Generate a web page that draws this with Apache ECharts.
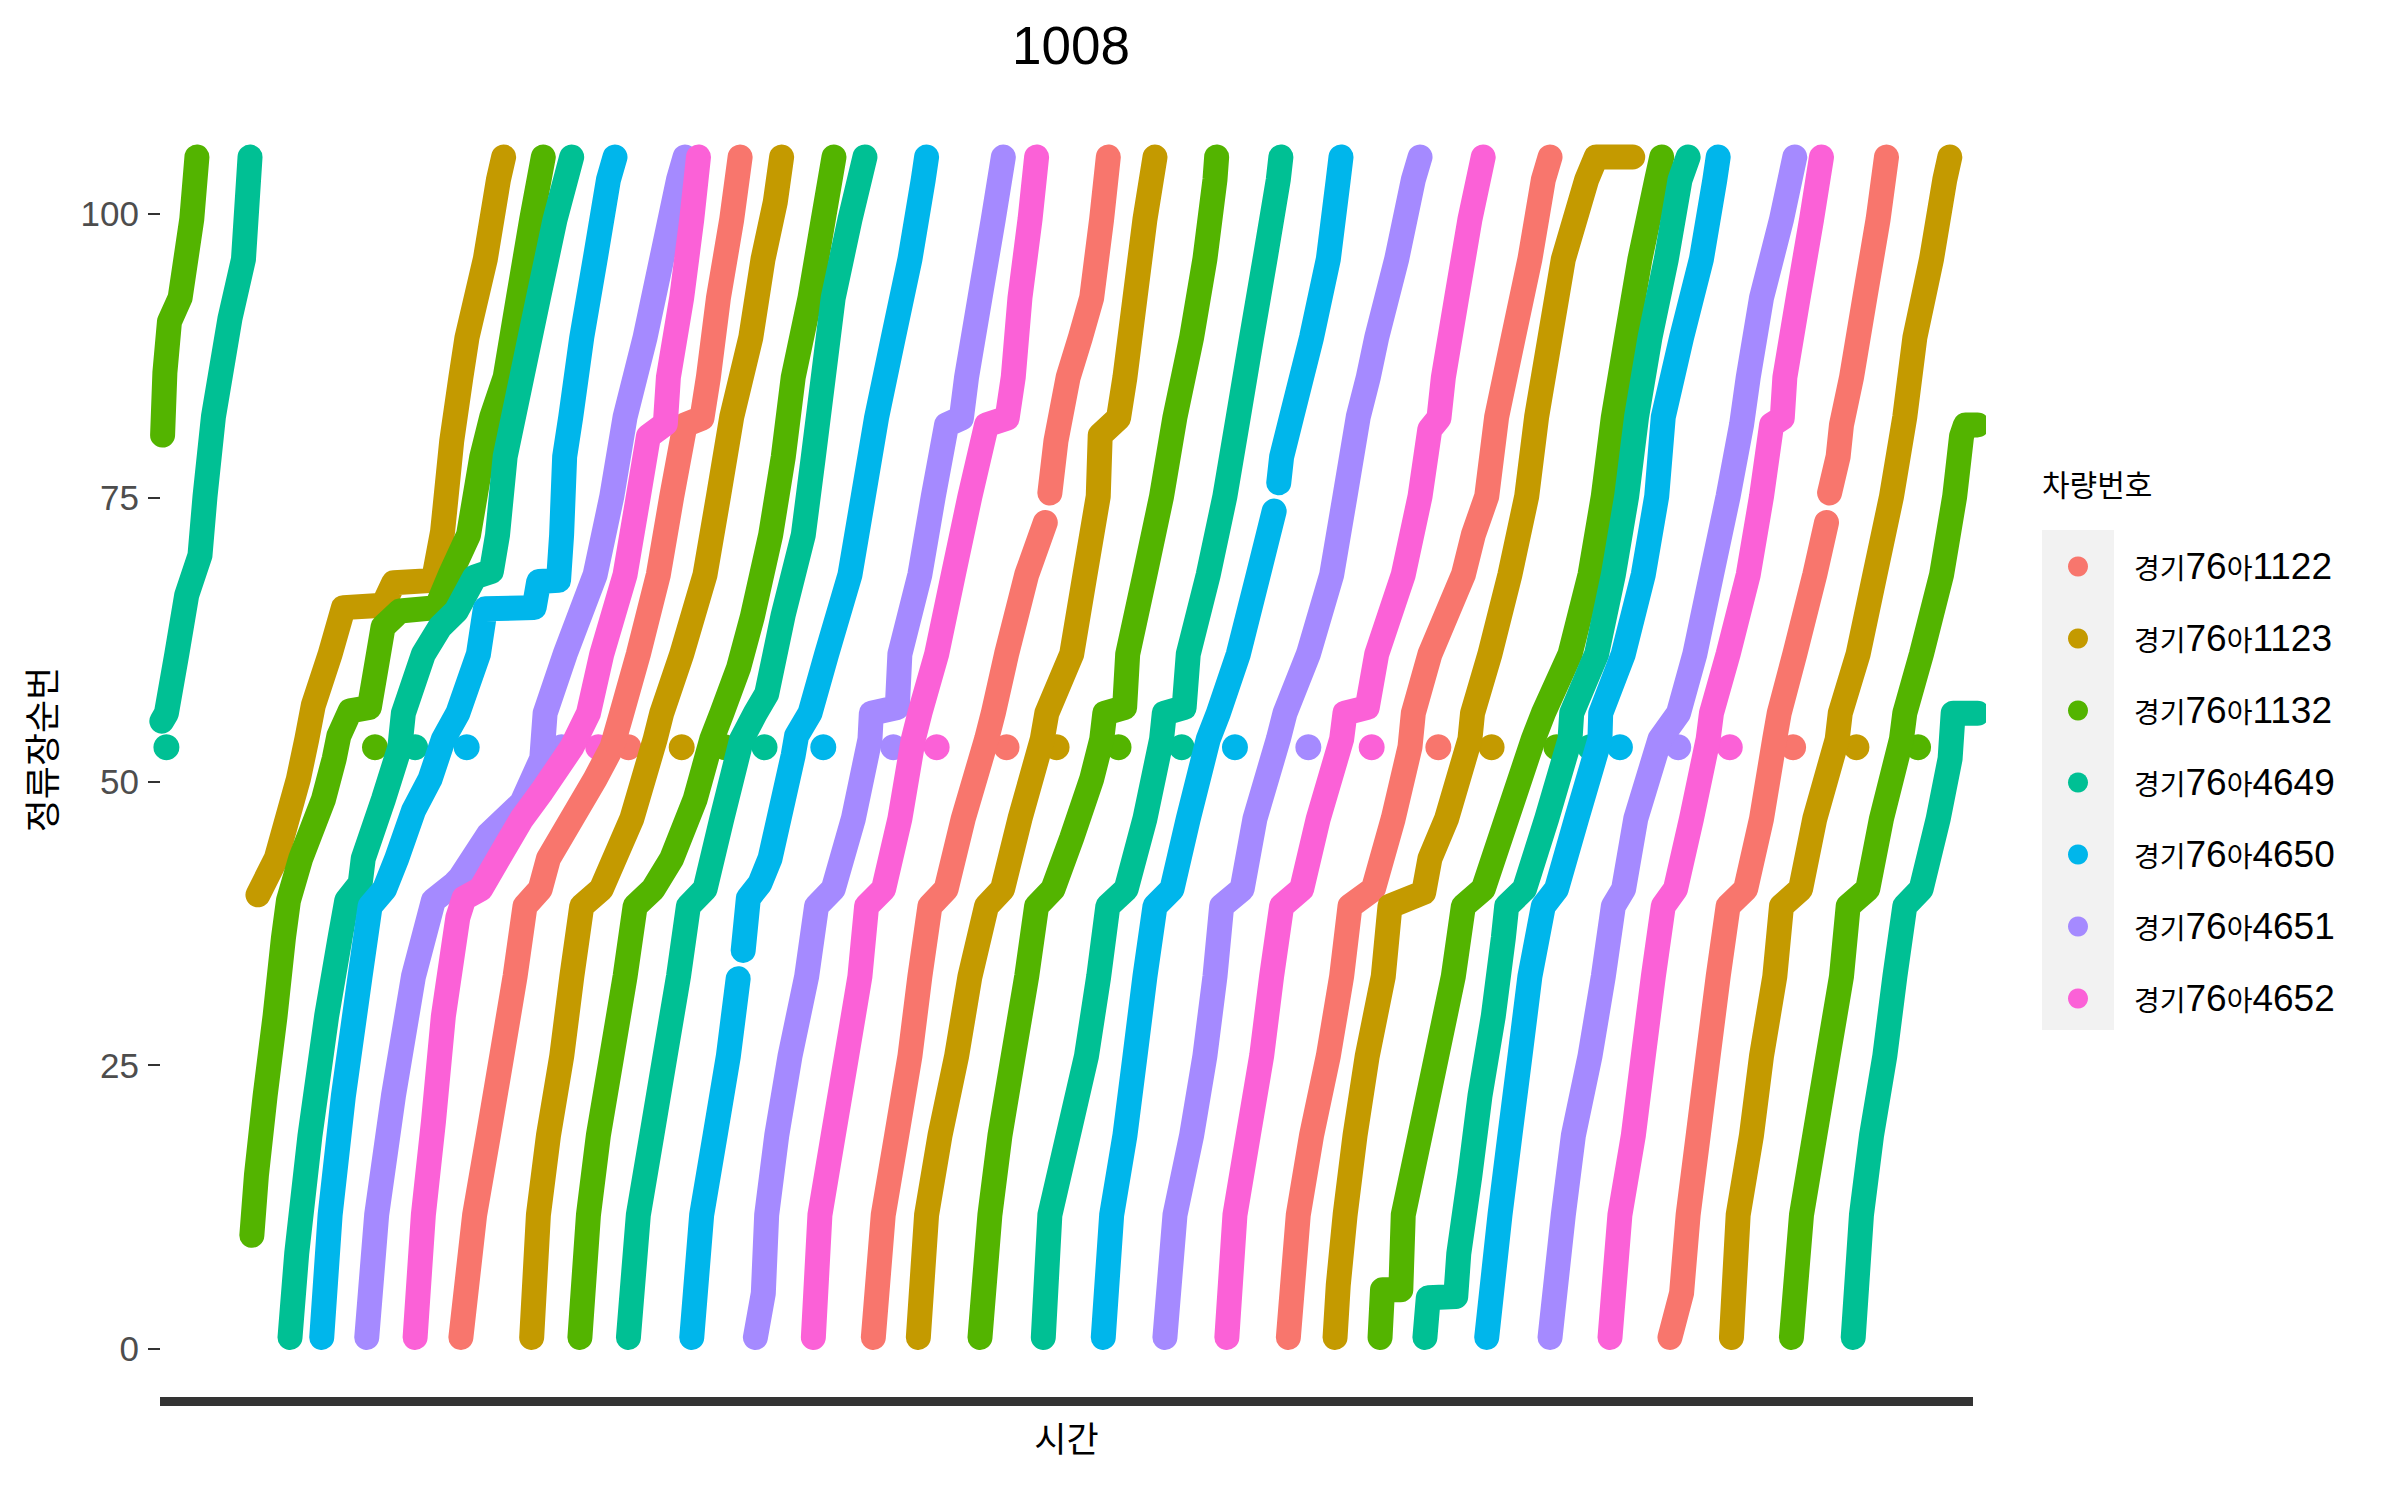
<!DOCTYPE html>
<html><head><meta charset="utf-8">
<script src="https://cdn.jsdelivr.net/npm/echarts@6/dist/echarts.min.js"></script>
<style>html,body{margin:0;padding:0;background:#fff}#c{width:2393px;height:1487px}</style>
</head><body><div id="c"></div>
<script>
// 차량번호 (vehicle ids)
const vehicles = ['경기76아1122','경기76아1123','경기76아1132','경기76아4649','경기76아4650','경기76아4651','경기76아4652'];
const yTicks = [0, 25, 50, 75, 100];

// each trip: [time index, 정류장순번]
const trips1122 = [
 [[302,1],[311,11.8],[320,18.8],[328.8,25.8],[337.5,32.8],[344,39],[354,40.5],[359.4,43.2],[374.7,46.7],[390,50.2],[401,53],[407.4,56],[418.3,61.2],[431.4,68.2],[440.2,75.1],[448.9,81.4],[460,82],[464.2,85.6],[470.8,92.6],[479.5,99.5],[485,105]],
 [[572.3,1],[578.8,11.8],[587.6,18.8],[596.3,25.8],[602.8,32.8],[609.4,39],[620,40.5],[631.2,46.7],[646.5,53.7],[650.9,56],[659.6,61.2],[672.8,68.2],[685,72.8]],
 [[688,75.4],[692,80],[700,85.6],[708,89.1],[715.4,92.6],[721.9,99.5],[726.3,105]],
 [[844.3,1],[850.8,11.8],[859.5,18.8],[870.5,25.8],[879.2,32.8],[884.7,39],[900,40.5],[913,46.7],[924,53],[926.2,56],[937.1,61.2],[959,68.2],[965.5,71.7],[974.3,75.1],[980.8,82.1],[991.7,89.1],[1002.6,96],[1011.4,103],[1015.8,105]],
 [[1094.4,1],[1102,4.9],[1106.3,11.8],[1112.9,18.8],[1119.4,25.8],[1126,32.8],[1132.5,39],[1144,40.5],[1154.4,46.7],[1163,53.7],[1166,56],[1176.2,61.2],[1189.3,68.2],[1197,72.8]],
 [[1199,75.4],[1204.6,78.6],[1206.8,81.4],[1213.4,85.6],[1222.1,92.6],[1230.8,99.5],[1236.3,105]]
];
const trips1123 = [
 [[169,40],[181,43.2],[195.5,50.2],[201,53.7],[205.3,56.7],[216.3,61.2],[225,65.3],[251,65.5],[258,67.5],[284,67.7],[290,72],[296,80],[302,85.6],[306,89.1],[318,96],[326.6,103],[330,105]],
 [[348.4,1],[352.8,11.8],[359.4,18.8],[368.1,25.8],[374.7,32.8],[381.2,39],[394,40.5],[414,46.7],[429.3,53.7],[433.6,56],[446.7,61.2],[462,68.2],[470.8,75.1],[479.5,82.1],[492,89.1],[500,96],[508,101],[512.2,105]],
 [[601.8,1],[607.2,11.8],[616,18.8],[626.9,25.8],[635.6,32.8],[646.5,39],[657,40.5],[668.4,46.7],[683,53.7],[686,56],[702.3,61.2],[711,68.2],[719.7,75.1],[721,80.5],[733,82],[737.2,85.6],[743.8,92.6],[750.3,99.5],[756.9,105]],
 [[874.9,1],[877,5.6],[881.5,11.8],[888,18.8],[896,25.8],[906.5,32.8],[910.9,39],[933,40.2],[937.1,43.2],[948,46.7],[963.3,53.7],[965,56],[976.4,61.2],[989.5,68.2],[1000.5,75.1],[1007,82.1],[1015.8,89.1],[1024.5,96],[1039.8,103],[1046,105],[1070,105]],
 [[1134.7,1],[1139.1,11.8],[1147.8,18.8],[1154.4,25.8],[1163.1,32.8],[1167.5,39],[1180,40.5],[1189.3,46.7],[1204,53.7],[1206,56],[1217.7,61.2],[1228.7,68.2],[1239.6,75.1],[1248.3,82.1],[1254.9,89.1],[1265.8,96],[1274.5,103],[1277.8,105]]
];
const trips1132 = [
 [[106.5,80.5],[108,86],[111,90.5],[118,92.6],[125.6,99.5],[129,105]],
 [[165,10],[168,15.3],[173.7,22.3],[180.2,29.3],[185.7,36.2],[189,39.5],[197,43.2],[211.9,48.4],[219,52],[222,54],[229.4,56.2],[242,56.5],[251,63.6],[262,65],[286,65.3],[295,68.2],[307,71.7],[315.7,78.6],[322.2,82.1],[331,85.6],[339.7,92.6],[348.4,99.5],[356,105]],
 [[380,1],[385.6,11.8],[392.1,18.8],[400.9,25.8],[409.6,32.8],[416.2,39],[428,40.5],[440.2,43.2],[455.5,48.4],[466.4,53.7],[473,56],[484,60],[493,64.5],[505,71.7],[513.3,78.6],[519.8,85.6],[530.8,92.6],[539.5,99.5],[546.5,105]],
 [[642.2,1],[648.7,11.8],[655.3,18.8],[664,25.8],[672.8,32.8],[679.3,39],[690,40.5],[702.3,45],[715.4,50.2],[722,53.7],[724,56],[737,56.5],[739,61.2],[750.3,68.2],[761.2,75.1],[770,82.1],[780.9,89.1],[789.6,96],[796.2,103],[797.3,105]],
 [[904.4,1],[906,5.2],[918,5.2],[919.6,11.8],[930.6,18.8],[941.5,25.8],[952.4,32.8],[959,39],[972,40.5],[987.4,46.7],[1004.8,53.7],[1011.4,56],[1028.9,61.2],[1042,68.2],[1050.7,75.1],[1057.3,82.1],[1066,89.1],[1074.7,96],[1085.7,103],[1089,105]],
 [[1174,1],[1180.6,11.8],[1189.3,18.8],[1198,25.8],[1206.8,32.8],[1211.2,39],[1224,40.5],[1233,46.7],[1246.1,53.7],[1248.3,56],[1259.2,61.2],[1272.4,68.2],[1281,75.1],[1285.5,80.4],[1288,81.4],[1296,81.4]]
];
const trips4649 = [
 [[106,55.3],[109,56],[115.8,61.2],[122.3,66.4],[131,69.9],[134.3,75.1],[139.8,82.1],[150.7,90.8],[159.5,96],[163.8,105]],
 [[190,1],[194.4,8.4],[203.1,18.8],[214,29.3],[222.8,36.2],[227.2,39.5],[236,41],[238,43.2],[251.2,48.4],[262,53],[264.3,56],[277.4,61.2],[288.3,63.6],[299,65],[311,68],[322,68.5],[326,71.7],[331,78.6],[341.9,85.6],[352.8,92.6],[363.7,99.5],[374.6,105]],
 [[411.8,1],[418.3,11.8],[427.1,18.8],[435.8,25.8],[444.6,32.8],[451.1,39],[462,40.5],[473,46.7],[486,53.7],[495,56],[502.4,57.7],[513.3,64.7],[526.4,71.7],[533,78.6],[539.5,85.6],[546,92.6],[557,99.5],[566.8,105]],
 [[683.7,1],[688,11.8],[700,18.8],[712,25.8],[720,32.8],[726,39],[738,40.5],[750.3,46.7],[761.2,53.7],[763,56],[776,56.5],[778.7,61.2],[791.8,68.2],[802.7,75.1],[811.5,82.1],[820.2,89.1],[829,96],[837.7,103],[839.4,105]],
 [[933.8,1],[936,4.5],[954,4.6],[956,8.4],[963.3,15.3],[969.9,22.3],[978.6,29.3],[985.2,36.2],[987.4,39],[999,40.5],[1013.6,46.7],[1028.9,53.7],[1030,56],[1046.3,61.2],[1057.3,68.2],[1066,75.1],[1072.5,82.1],[1081.3,89.1],[1092,96],[1101,103],[1106.3,105]],
 [[1214.5,1],[1219.9,11.8],[1226.5,18.8],[1235.2,25.8],[1241.8,32.8],[1248.3,39],[1259,40.5],[1270.2,46.7],[1278,52],[1280,56],[1296,56]]
];
const trips4650 = [
 [[210.8,1],[216.3,11.8],[225,22.3],[235.9,32.8],[242.5,39],[252,40.5],[260,43.2],[270.9,47.4],[281.8,50.2],[290.5,53.7],[300,56],[313.5,61.2],[318,65.2],[350,65.3],[353,67.6],[366,67.7],[368,71.7],[370,78.6],[374,82.1],[381.2,89.1],[390,96],[398.7,103],[403,105]],
 [[453.3,1],[459.8,11.8],[468.6,18.8],[477.3,25.8],[483.7,32.6]],
 [[487,35.1],[490.4,39.7],[498,41],[504.6,43.2],[513.3,48.4],[519.8,52.3],[522,54],[530.8,56],[541.7,61.2],[557,68.2],[565.7,75.1],[574.5,82.1],[585.4,89.1],[596.3,96],[605,103],[607.2,105]],
 [[723,1],[728.5,11.8],[737.2,18.8],[743.8,25.8],[750.3,32.8],[756.9,39],[768,40.5],[778.7,46.7],[791.8,53.7],[798.4,56],[811.5,61.2],[824.6,68.2],[831.1,71.7],[835,73.8]],
 [[838,76.3],[839.9,78.6],[846.4,82.1],[859.5,89.1],[870.5,96],[877,103],[878.8,105]],
 [[974.3,1],[983,11.8],[989.5,18.8],[996.1,25.8],[1002.6,32.8],[1011.4,39],[1020,40.5],[1033.2,46.7],[1048.5,53.7],[1049,56],[1063.8,61.2],[1076.9,68.2],[1085.7,75.1],[1090,82.1],[1096,85.6],[1102,89.1],[1115,96],[1123.8,103],[1126,105]]
];
const trips4651 = [
 [[240.3,1],[246.8,11.8],[257.8,22.3],[270.9,32.8],[284,39.5],[298,41],[301.5,41.5],[320,45.3],[341.9,48.1],[355,52],[357.2,56],[370.3,61.2],[390,68.2],[400.9,75.1],[409.6,82.1],[422.7,89.1],[433.6,96],[444.6,103],[448.9,105]],
 [[495,1],[500.2,4.9],[502.4,11.8],[509,18.8],[517.7,25.8],[528.6,32.8],[535.1,39],[546,40.5],[559.2,46.7],[570.1,53.7],[571,56],[588,56.5],[589.7,61.2],[602.8,68.2],[611.6,75.1],[620.3,81.4],[630,82],[633.4,85.6],[642.2,92.6],[650.9,99.5],[657.5,105]],
 [[763.4,1],[770,11.8],[780.9,18.8],[789.6,25.8],[796.2,32.8],[800.6,39],[814,40.5],[822.4,46.7],[837.7,53.7],[842.1,56],[857.4,61.2],[872.7,68.2],[881.4,75.1],[890.1,82.1],[896.7,85.6],[902.2,89.1],[915.3,96],[926.2,103],[930.6,105]],
 [[1015.8,1],[1024.5,11.8],[1031.1,18.8],[1042,25.8],[1050.7,32.8],[1057.3,39],[1064,40.5],[1072,46.7],[1087.8,53.7],[1100,56],[1110.7,61.2],[1121.6,68.2],[1132.5,75.1],[1141.3,81.4],[1145.7,85.6],[1154.4,92.6],[1167.5,99.5],[1176.2,105]]
];
const trips4652 = [
 [[272,1],[277.4,11.8],[284,20],[290.5,29.3],[300,38],[304,39.7],[315,40.5],[326.6,43.2],[341.9,46.7],[355,49.1],[374.7,53],[385.6,56],[394.3,61.2],[409.6,68.2],[418.3,75.1],[424.9,80.4],[436,81.5],[438,85.6],[446.7,92.6],[453.3,99.5],[457.7,105]],
 [[533,1],[537.3,11.8],[546,18.8],[554.8,25.8],[563.5,32.8],[567.9,39],[579,40.5],[589.7,46.7],[598.5,53.7],[602.8,56],[613.8,61.2],[624.7,68.2],[635.6,75.1],[646.5,81.4],[660,82],[664,85.6],[668.4,92.6],[675,99.5],[679.3,105]],
 [[804,1],[809.3,11.8],[818,18.8],[826.8,25.8],[833.3,32.8],[839.9,39],[853,40.5],[863.9,46.7],[879.2,53.7],[881.4,56],[896,56.5],[902.2,61.2],[919.6,68.2],[930.6,75.1],[937,81],[943,82],[945.9,85.6],[954.6,92.6],[963.3,99.5],[972,105]],
 [[1055.1,1],[1061.6,11.8],[1070.4,18.8],[1076.9,25.8],[1083.5,32.8],[1090,39],[1098,40.5],[1108.5,46.7],[1119.4,53.7],[1121.6,56],[1132.5,61.2],[1145.7,68.2],[1154.4,75.1],[1161,81.4],[1168,82],[1169.7,85.6],[1178.4,92.6],[1187.2,99.5],[1193.7,105]]
];

// isolated records at stop 53
const dots1122 = [[411.8,53],[659.6,53],[942.6,53],[1175.1,53]];
const dots1123 = [[446.7,53],[692.4,53],[977.5,53],[1216.6,53]];
const dots1132 = [[245.7,53],[475,53],[733,53],[1020,53],[1257,53]];
const dots4649 = [[109,53],[272,53],[501,53],[774.4,53],[1042,53]];
const dots4650 = [[305.8,53],[539.5,53],[809.3,53],[1061.6,53]];
const dots4651 = [[368,53],[585.4,53],[857.4,53],[1099.8,53]];
const dots4652 = [[392,53],[613.8,53],[898.9,53],[1133.6,53]];

const tripsByVehicle = [trips1122, trips1123, trips1132, trips4649, trips4650, trips4651, trips4652];
const dotsByVehicle = [dots1122, dots1123, dots1132, dots4649, dots4650, dots4651, dots4652];
const palette = ['#F8766D','#C49A00','#53B400','#00C094','#00B6EB','#A58AFF','#FB61D7'];

const LINE_W = 25, DOT_D = 26;
const series = [];
vehicles.forEach((name, i) => {
  tripsByVehicle[i].forEach(trip => {
    series.push({
      type: 'line', name: name, data: trip, symbol: 'none', showSymbol: false,
      color: palette[i], silent: true, animation: false, clip: true,
      lineStyle: { width: LINE_W, color: palette[i], cap: 'round', join: 'round' }
    });
  });
  series.push({
    type: 'scatter', name: name, data: dotsByVehicle[i], symbol: 'circle', symbolSize: DOT_D,
    itemStyle: { color: palette[i], opacity: 1 }, silent: true, animation: false, clip: true
  });
});

const chart = echarts.init(document.getElementById('c'), null, { renderer: 'svg', width: 2393, height: 1487 });
chart.setOption({
  backgroundColor: '#ffffff',
  animation: false,
  title: {
    text: '1008', left: 1066, top: 14, textAlign: 'center',
    textStyle: { fontSize: 53, fontWeight: 'normal', fontFamily: 'Liberation Sans, Arial, sans-serif', color: '#000' }
  },
  grid: { left: 160, right: 420, top: 98, bottom: 86, containLabel: false },
  xAxis: {
    type: 'value', min: 104.8, max: 1293,
    axisLine: { show: true, onZero: false, lineStyle: { color: '#333333', width: 9, cap: 'butt' } },
    axisTick: { show: false }, axisLabel: { show: false }, splitLine: { show: false },
    name: '시간', nameLocation: 'middle', nameGap: 18,
    nameTextStyle: { fontSize: 35, fontFamily: 'Noto Sans CJK KR', color: '#000', verticalAlign: 'top' }
  },
  yAxis: {
    type: 'value', min: -4.6, max: 110.2,
    axisLine: { show: false, onZero: false },
    axisTick: { show: true, length: 12, customValues: yTicks, lineStyle: { color: '#333333', width: 2 } },
    axisLabel: { customValues: yTicks, fontSize: 35, fontFamily: 'Liberation Sans, Arial, sans-serif', color: '#4D4D4D', margin: 21 },
    splitLine: { show: false },
    name: '정류장순번', nameLocation: 'middle', nameGap: 102, nameRotate: 90,
    nameTextStyle: { fontSize: 36, fontFamily: 'Noto Sans CJK KR', color: '#000' }
  },
  legend: {
    data: vehicles.map(n => ({ name: n, icon: 'circle' })),
    orient: 'vertical', left: 2068, top: 548, padding: 0,
    itemWidth: 20, itemHeight: 20, itemGap: 35, selectedMode: false, z: 10,
    formatter: n => '{k|' + n.slice(0, 2) + '}{d|' + n.slice(2, 4) + '}{k|' + n.slice(4, 5) + '}{d|' + n.slice(5) + '}',
    textStyle: {
      padding: [0, 0, 0, 41],
      rich: {
        k: { fontSize: 28, fontFamily: 'Noto Sans CJK KR', color: '#000' },
        d: { fontSize: 37, fontFamily: 'Liberation Sans, Arial, sans-serif', color: '#000' }
      }
    }
  },
  graphic: [
    { type: 'rect', left: 2042, top: 530, z: -10, shape: { width: 72, height: 500 }, style: { fill: '#F2F2F2' } },
    { type: 'text', left: 2042, top: 468, style: { text: '차량번호', fontSize: 30, fontFamily: 'Noto Sans CJK KR', fill: '#000' } }
  ],
  series: series
});
</script>
</body></html>
